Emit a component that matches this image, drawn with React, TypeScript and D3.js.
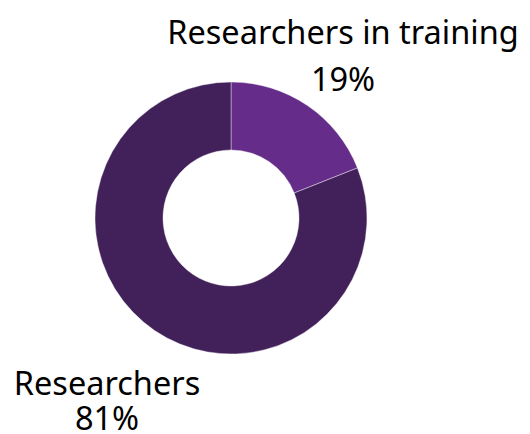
import React, { useEffect, useRef } from "react";
import * as d3 from "d3";

const categories = ["Researchers in training", "Researchers"];
const values = [19, 81];
const colors = ["#652d89", "#42215b"];

export default function App() {
  const ref = useRef<SVGSVGElement>(null);

  useEffect(() => {
    const svg = d3.select(ref.current);
    svg.selectAll("*").remove();

    const cx = 231,
      cy = 218,
      outer = 136,
      inner = 68;

    const pie = d3.pie<number>().sort(null).value((d) => d);
    const arc = d3.arc<d3.PieArcDatum<number>>().innerRadius(inner).outerRadius(outer);

    const g = svg.append("g").attr("transform", `translate(${cx}, ${cy})`);

    g.selectAll("path")
      .data(pie(values))
      .join("path")
      .attr("d", arc)
      .attr("fill", (d, i) => colors[i])
      .attr("stroke", "#ffffff")
      .attr("stroke-width", 0.4);

    // labels
    const labelPos = [
      { x: 343, y: 44, y2: 91 },
      { x: 107, y: 395, y2: 430 },
    ];

    categories.forEach((c, i) => {
      const t = svg
        .append("text")
        .attr("text-anchor", "middle")
        .style("font-family", "'Noto Sans', sans-serif")
        .style("font-size", "32.5px")
        .attr("fill", "#000");
      t.append("tspan").attr("x", labelPos[i].x).attr("y", labelPos[i].y).text(c);
      t.append("tspan")
        .attr("x", labelPos[i].x)
        .attr("y", labelPos[i].y2)
        .text(values[i] + "%");
    });
  }, []);

  return (
    <svg
      ref={ref}
      width={530}
      height={434}
      style={{ position: "absolute", left: 0, top: 0, background: "#fff" }}
    ></svg>
  );
}
